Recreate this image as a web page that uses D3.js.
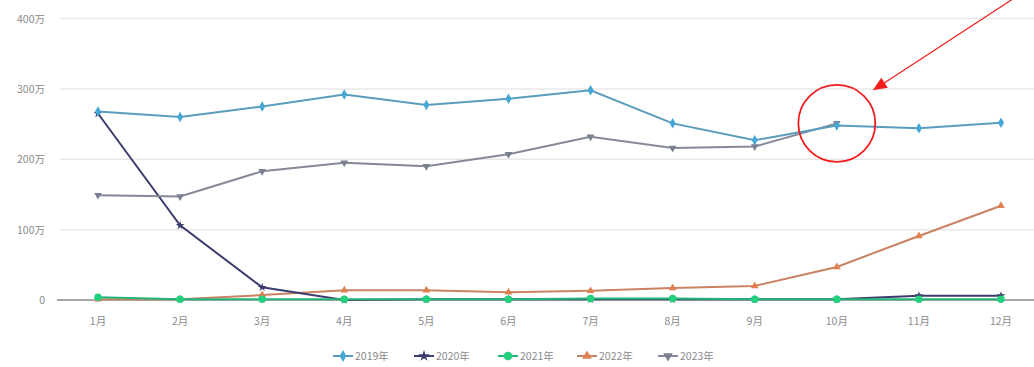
<!DOCTYPE html>
<html><head><meta charset="utf-8">
<script src="https://cdn.jsdelivr.net/npm/d3@7"></script>
<style>body{margin:0;background:#fff;}svg{display:block;font-family:"Noto Sans CJK SC","Noto Sans",sans-serif;}</style>
</head><body><svg id="c" width="1034" height="367"></svg>
<script>
const months = ["1月","2月","3月","4月","5月","6月","7月","8月","9月","10月","11月","12月"];
const yTicks = [0,100,200,300,400];
const s2019 = [268,260,275,292,277,286,298,251,227,248,244,252];
const s2020 = [265,106,18,0,1,1,1,1,1,1,6,6];
const s2021 = [4,1,1,1,1,1,2,2,1,1,1,1];
const s2022 = [1,1,7,14,14,11,13,17,20,47,91,134];
const s2023 = [149,147,183,195,190,207,232,216,218,251];
const seriesNames = ["2019年","2020年","2021年","2022年","2023年"];
const seriesColors = ["#45a7d6","#3b3d6e","#22d07e","#e0804f","#7b8090"];
const lineColors = ["#5a9cbc","#3b3d6e","#23b478","#c98262","#858a98"];
const symbols = [d3.symbolDiamond,d3.symbolStar,d3.symbolCircle,d3.symbolTriangle,d3.symbolTriangle];
const allSeries = [s2019,s2020,s2021,s2022,s2023];

const svg = d3.select("#c");
const x = d3.scalePoint().domain(months).range([98,1001]);
const y = d3.scaleLinear().domain([0,400]).range([300,18.5]);

// grid
svg.append("g").selectAll("line").data(yTicks.slice(1)).join("line")
  .attr("x1",60).attr("x2",1034).attr("y1",d=>y(d)).attr("y2",d=>y(d))
  .attr("stroke","#e8e8e8").attr("stroke-width",1.5);
// y labels
svg.append("g").selectAll("text").data(yTicks).join("text")
  .attr("x",45).attr("y",d=>y(d)+4).attr("text-anchor","end")
  .attr("font-size",10.5).attr("fill","#8a8a8a")
  .text(d=>d===0?"0":d+"万");
// baseline
svg.append("line").attr("x1",57).attr("x2",1034).attr("y1",y(0)).attr("y2",y(0))
  .attr("stroke","#8a8a8a").attr("stroke-width",1.5);
// x labels
svg.append("g").selectAll("text").data(months).join("text")
  .attr("x",d=>x(d)).attr("y",325).attr("text-anchor","middle")
  .attr("font-size",10.5).attr("fill","#8a8a8a").text(d=>d);

const line = d3.line().x((d,i)=>x(months[i])).y(d=>y(d));
const order = [3,1,2,4,0];
const msize = [32,24,45,26,26];
order.forEach(k=>{
  const data = allSeries[k];
  const g = svg.append("g");
  g.append("path").datum(data).attr("d",line).attr("fill","none")
    .attr("stroke",lineColors[k]).attr("stroke-width",2);
  g.selectAll("path.m").data(data).join("path").attr("class","m")
    .attr("transform",(d,i)=>`translate(${x(months[i])},${y(d)})${k===4?" rotate(180)":""}`)
    .attr("d",d3.symbol().type(symbols[k]).size(msize[k]))
    .attr("fill",seriesColors[k]);
});

// annotation: red circle around Oct 2023 point and arrow
const cx = x("10月"), cy = y(s2023[9]) ;
svg.append("circle").attr("cx",cx).attr("cy",cy).attr("r",38.5)
  .attr("fill","none").attr("stroke","#f21c1c").attr("stroke-width",1.8);
const ax1 = cx+177, ay1 = cy-125, ax2 = cx+36, ay2 = cy-33;
svg.append("line").attr("x1",ax1).attr("y1",ay1).attr("x2",ax2+8).attr("y2",ay2-5)
  .attr("stroke","#f21c1c").attr("stroke-width",1.2);
const ang = Math.atan2(ay2-ay1, ax2-ax1);
const hl=14, hw=6;
const bx = ax2 - hl*Math.cos(ang), by = ay2 - hl*Math.sin(ang);
svg.append("path").attr("d",`M${ax2},${ay2}L${bx - hw*Math.sin(ang)},${by + hw*Math.cos(ang)}L${bx + hw*Math.sin(ang)},${by - hw*Math.cos(ang)}Z`)
  .attr("fill","#f21c1c");

// legend
const legX = [343,424,508,587,668];
const lg = svg.append("g");
seriesNames.forEach((n,k)=>{
  const gx = legX[k], gy = 356;
  lg.append("line").attr("x1",gx-10).attr("x2",gx+10).attr("y1",gy).attr("y2",gy)
    .attr("stroke",lineColors[k]).attr("stroke-width",2);
  lg.append("path").attr("transform",`translate(${gx},${gy})${k===4?" rotate(180)":""}`)
    .attr("d",d3.symbol().type(symbols[k]).size(k===2?60:40)).attr("fill",seriesColors[k]);
  lg.append("text").attr("x",gx+12).attr("y",gy+4).attr("font-size",10.5)
    .attr("fill","#8a8a8a").text(n);
});
</script></body></html>
